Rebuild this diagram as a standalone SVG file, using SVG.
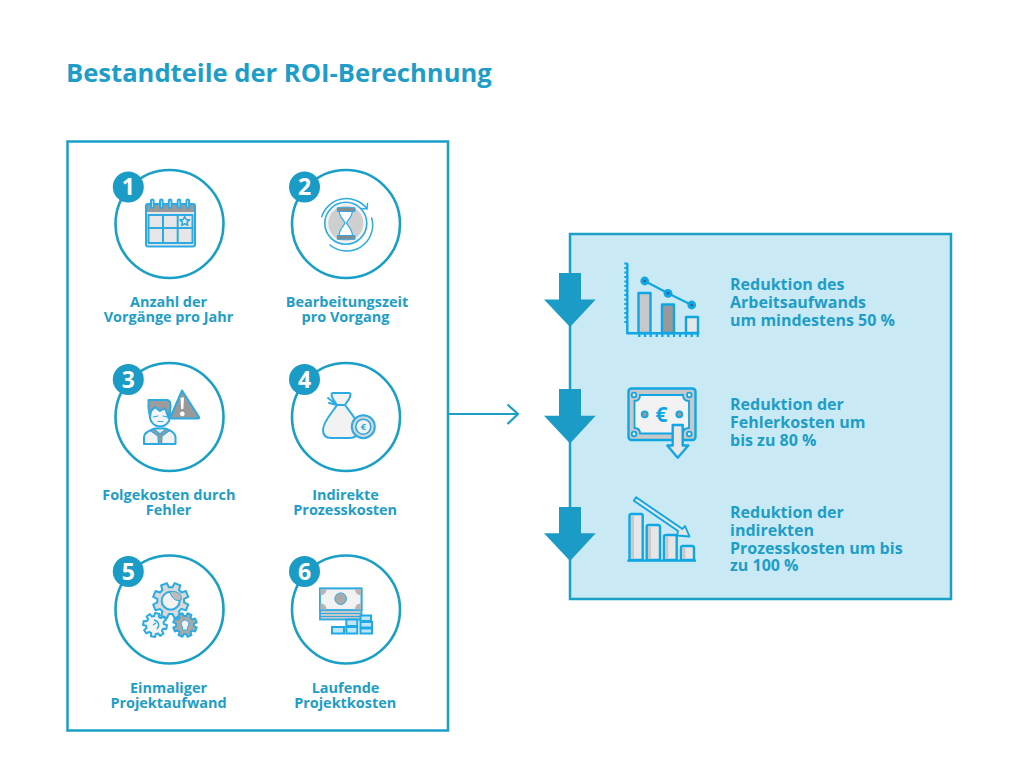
<svg xmlns="http://www.w3.org/2000/svg" width="1024" height="768" viewBox="0 0 1024 768">
<style>
text{font-family:"Open Sans","Noto Sans",sans-serif;font-weight:700;fill:#1e9dc8}
.t{font-size:14.45px;text-anchor:middle}
.r{font-size:16px}
.n{font-size:23px;fill:#fff;text-anchor:middle}
.c{fill:#fff;stroke:#1a9fc6;stroke-width:2.6}
.b{fill:#1b9cc6}
.i{stroke:#2cabe2;stroke-width:2;fill:#e6e6e6;stroke-linejoin:round;stroke-linecap:round}
.j{stroke:#0fa6e3;stroke-width:2.400;fill:#e6e6e6;stroke-linejoin:round;stroke-linecap:round}
.gear{stroke:#2cabe2;stroke-width:2;stroke-linejoin:round;vector-effect:non-scaling-stroke}
.brick{fill:#bfe6f7;stroke:#1fa9e6;stroke-width:2}
</style>
<defs>
<path id="gearshape" class="gear" d="M7.24 -1.94L9.85 -1.74L9.85 1.74L7.24 1.94L6.5 3.75L8.19 5.74L5.74 8.19L3.75 6.5L1.94 7.24L1.74 9.85L-1.74 9.85L-1.94 7.24L-3.75 6.5L-5.74 8.19L-8.19 5.74L-6.5 3.75L-7.24 1.94L-9.85 1.74L-9.85 -1.74L-7.24 -1.94L-6.5 -3.75L-8.19 -5.74L-5.74 -8.19L-3.75 -6.5L-1.94 -7.24L-1.74 -9.85L1.74 -9.85L1.94 -7.24L3.75 -6.5L5.74 -8.19L8.19 -5.74L6.5 -3.75Z"/>
</defs>
<rect width="1024" height="768" fill="#fff"/>
<text x="66" y="82" style="font-size:25.6px">Bestandteile der ROI-Berechnung</text>
<g id="panel-left"><rect x="67.5" y="141.5" width="380.500" height="589" fill="#fff" stroke="#1a9fc6" stroke-width="2.500"/></g>
<g id="panel-right"><rect x="570" y="234" width="381" height="365" fill="#c9eaf4" stroke="#1a9fc6" stroke-width="2.500"/></g>

<g id="node1">
<circle class="c" cx="169.500" cy="224" r="54"/><circle class="b" cx="128.300" cy="187" r="15.500"/><text class="n" x="128.300" y="195">1</text>
<rect class="i" x="146" y="204" width="49" height="42.500" rx="2" style="fill:#e6e6e6"/>
<rect x="147" y="205" width="47" height="7" fill="#999"/>
<rect class="i" x="148.500" y="215" width="44" height="28" style="fill:#e6e6e6"/>
<path class="i" style="fill:none" d="M163 215V243M177.700 215V243M148.500 228H192.500"/>
<g class="i" style="fill:#fff"><rect x="151" y="199.500" width="2.600" height="8.500" rx="1.300"/><rect x="160" y="199.500" width="2.600" height="8.500" rx="1.300"/><rect x="168.800" y="199.500" width="2.600" height="8.500" rx="1.300"/><rect x="177.700" y="199.500" width="2.600" height="8.500" rx="1.300"/><rect x="186.500" y="199.500" width="2.600" height="8.500" rx="1.300"/></g>
<path class="i" style="fill:#f5f5f5;stroke-width:1.600" d="M184.700 216.500l1.400 3 3.300.4-2.400 2.200.6 3.200-2.900-1.600-2.900 1.600.6-3.200-2.400-2.200 3.300-.4z"/>
<text class="t" x="168.500" y="307">Anzahl der</text><text class="t" x="168.500" y="322">Vorgänge pro Jahr</text>
</g>

<g id="node2">
<circle class="c" cx="346" cy="224" r="54"/><circle class="b" cx="304.500" cy="187" r="15.500"/><text class="n" x="304.500" y="195">2</text>
<circle cx="345.800" cy="223.300" r="21" fill="#f2f2f2" stroke="#2cabe2" stroke-width="1.600"/>
<circle cx="345.800" cy="223.300" r="17.500" fill="#cfcfcf"/>
<path fill="none" stroke="#2cabe2" stroke-width="1.500" stroke-linecap="round" d="M321.700 216.700A26 26 0 0 1 366.700 208.300M371.700 218A26 26 0 0 1 330 245"/>
<path fill="none" stroke="#2cabe2" stroke-width="1.500" stroke-linecap="round" d="M361.500 208.500L367 209L367.500 203.500"/>
<path fill="#fff" stroke="#2cabe2" stroke-width="1.200" d="M339 210H352.500C352.500 217 347.500 220 346.500 223C347.500 226 352.500 229 352.500 236H339C339 229 344 226 345 223C344 220 339 217 339 210Z"/>
<path fill="#8a8a8a" stroke="#2cabe2" stroke-width="1" d="M337.300 207.700H355V211.500H337.300ZM337.300 235.500H355V239.300H337.300Z"/>
<text class="t" x="347" y="307">Bearbeitungszeit</text><text class="t" x="345.500" y="322">pro Vorgang</text>
</g>

<g id="node3">
<circle class="c" cx="169.500" cy="417" r="54"/><circle class="b" cx="128.300" cy="379.500" r="15.500"/><text class="n" x="128.300" y="387.500">3</text>
<path class="i" style="fill:#f2f2f2" d="M144 444V437C144 432 150 430 155 428.500H165C170 430 175 432 175.500 437V444Z"/>
<path class="i" style="fill:#999;stroke-width:1.200" d="M153.500 428.500L160 434L166.500 428.500L169 431L162 436L161.500 444H158.500L158 436L151 431Z"/>
<path class="i" style="fill:#f5f5f5" d="M150 408V418C151 424 156 426.500 160 426.500C164 426.500 169 424 170 418V402Z"/>
<path class="i" style="fill:#9c9c9c" d="M148.500 400H167C170 400 170.500 403 170.500 407L168.500 418L165 408L160 411L155 407L151 411L150 417L148.500 408Z"/>
<path class="i" style="fill:none;stroke-width:1.200" d="M153.500 417L158 416M163 416L167 417M158 421.500H163"/>
<path class="i" style="fill:#999" d="M182 390.500L199 417C199.500 418 199 418.500 198 418.500H171.500L170.500 417Z"/>
<path fill="#fff" d="M180.500 397.500H184L183.300 409H181.200ZM182.300 411.500a2.400 2.400 0 1 0 .01 0Z"/>
<text class="t" x="168.800" y="500">Folgekosten durch</text><text class="t" x="168.500" y="514.500">Fehler</text>
</g>

<g id="node4">
<circle class="c" cx="346" cy="417" r="54"/><circle class="b" cx="304.500" cy="379.500" r="15.500"/><text class="n" x="304.500" y="387.500">4</text>
<path class="i" style="fill:#f2f2f2" d="M333 393H349C351 393 351 395 349 399L345 405C350 412 358 420 358 430C358 435 355 438 350 438H331C326 438 323 435 323 430C323 421 333 412 337 405L333 399C331 395 331 393 333 393Z"/>
<path class="i" style="fill:none" d="M337 405H345M328 398L337 405M329 403L337 405"/>
<circle cx="363.300" cy="426.700" r="11.500" fill="#d6d6d6" stroke="#2cabe2" stroke-width="2"/>
<circle cx="363.300" cy="426.700" r="7.500" fill="#f2f2f2" stroke="#2cabe2" stroke-width="1.600"/>
<text x="363.300" y="430" style="font-size:9px;text-anchor:middle;fill:#2cabe2">€</text>
<text class="t" x="345.500" y="500">Indirekte</text><text class="t" x="345.200" y="514.500">Prozesskosten</text>
</g>

<g id="node5">
<circle class="c" cx="169.500" cy="609.500" r="54"/><circle class="b" cx="128.300" cy="571.500" r="15.500"/><text class="n" x="128.300" y="579.500">5</text>
<use href="#gearshape" transform="translate(170.700 600.700) scale(1.800) rotate(22.500)" fill="#d9d9d9"/>
<circle cx="170.700" cy="600.700" r="9" fill="#f2f2f2" stroke="#2cabe2" stroke-width="2"/>
<path d="M170 591.500C176 590.500 183 594 181 600C176 602 171 598 170 591.500Z" fill="#bbb" stroke="#2cabe2" stroke-width="1"/>
<use href="#gearshape" transform="translate(155 625) scale(1.200) rotate(10)" fill="#f2f2f2"/>
<path fill="none" stroke="#2cabe2" stroke-width="1.400" d="M154 620C159 621 160 626 157 629M156 623L153 625"/>
<use href="#gearshape" transform="translate(185 625) scale(1.200) rotate(22.500)" fill="#a8a8a8"/>
<path fill="#f2f2f2" stroke="#2cabe2" stroke-width=".9" d="M185 620a4 4 0 0 1 2.500 7V630H182.500V627A4 4 0 0 1 185 620Z"/>
<text class="t" x="168.500" y="692.500">Einmaliger</text><text class="t" x="168.500" y="707.500">Projektaufwand</text>
</g>

<g id="node6">
<circle class="c" cx="346" cy="609.500" r="54"/><circle class="b" cx="304.500" cy="571.500" r="15.500"/><text class="n" x="304.500" y="579.500">6</text>
<rect x="320" y="588.500" width="41.500" height="31" fill="#c8c8c8" stroke="#2cabe2" stroke-width="1.800"/>
<path d="M320 613.500H361.500M320 616.500H361.500" stroke="#2cabe2" stroke-width="1" fill="none"/>
<rect x="320" y="588.500" width="41.500" height="21.500" fill="#f2f2f2" stroke="#2cabe2" stroke-width="1.800"/>
<path d="M320.500 589H326.500C326.500 593 324 595 320.500 595ZM361 589H355C355 593 357.500 595 361 595ZM320.500 609.500H326.500C326.500 605.500 324 603.500 320.500 603.500ZM361 609.500H355C355 605.500 357.500 603.500 361 603.500Z" fill="#b5b5b5"/>
<circle cx="340.700" cy="598.700" r="5.800" fill="#aaa" stroke="#2cabe2" stroke-width="1"/>
<g class="brick">
<rect x="332" y="627" width="12" height="6.500"/><rect x="346.300" y="627" width="11" height="6.500"/><rect x="346.300" y="619.500" width="11" height="6.500"/><rect x="360.500" y="628.500" width="11.500" height="5"/><rect x="360.500" y="622" width="11.500" height="5.500"/><rect x="360.500" y="615.500" width="10.500" height="5.500"/>
</g>
<text class="t" x="345.500" y="692.500">Laufende</text><text class="t" x="345.200" y="707.500">Projektkosten</text>
</g>

<g id="connectors" fill="none" stroke="#1a9fc6" stroke-width="2.200">
<path d="M449 414H518M507.500 404.500L518 414L507.500 424"/>
</g>

<g id="arrows" class="b">
<path d="M559 273H581V299.500H595.700L570 327L544 299.500H559Z"/>
<path d="M559 389H581V415.700H595.700L570 443.500L544 415.700H559Z"/>
<path d="M559 507H581V533.300H595.700L570 561L544 533.300H559Z"/>
</g>

<g id="result1">
<path class="j" style="fill:none" d="M627.300 264V333.300H698.300"/>
<path fill="none" stroke="#0fa6e3" stroke-width="2.200" d="M624.300 263.500H627M624.300 268H627M624.300 272.500H627M624.300 277H627M624.300 281.500H627M624.300 286H627M624.300 290.500H627M624.300 295H627M624.300 299.500H627M624.300 304H627M624.300 308.500H627M624.300 313H627M624.300 317.500H627M624.300 322H627M639.300 333V337M645 333V337M650.700 333V337M656.700 333V337M662.300 333V337M668.300 333V337M674 333V337M680 333V337M686 333V337M691.700 333V337M697.700 333V337"/>
<rect class="j" x="638.500" y="293" width="12" height="40" style="fill:#c8c8c8"/>
<rect class="j" x="662" y="304.500" width="12" height="28.500" style="fill:#999"/>
<rect class="j" x="686" y="317" width="12" height="16"/>
<path fill="none" stroke="#0fa6e3" stroke-width="2.200" d="M644.700 281L668 293.300L691.700 305"/>
<g fill="#0fa6e3"><circle cx="644.700" cy="281" r="4.400"/><circle cx="668" cy="293.300" r="4.400"/><circle cx="691.700" cy="305" r="4.400"/></g>
<g fill="#3b5c8f"><circle cx="644.700" cy="281" r="1.300"/><circle cx="668" cy="293.300" r="1.300"/><circle cx="691.700" cy="305" r="1.300"/></g>
<text class="r" x="730" y="290">Reduktion des</text><text class="r" x="730" y="308">Arbeitsaufwands</text><text class="r" x="730" y="326">um mindestens 50 %</text>
</g>

<g id="result2">
<rect class="j" x="628.500" y="388.500" width="67" height="51.500" rx="3" style="fill:#c8c8c8"/>
<path fill="#f2f2f2" stroke="#0fa6e3" stroke-width="1.800" d="M640 395H683C683 399 685 401 689 401V428C685 428 683 430 683 433.500H640C640 430 638 428 634.500 428V401C638 401 640 399 640 395Z"/>
<g fill="#f2f2f2" stroke="#0fa6e3" stroke-width="1.800"><circle cx="634" cy="395" r="2.300"/><circle cx="689.300" cy="395" r="2.300"/><circle cx="634" cy="434" r="2.300"/><circle cx="689.300" cy="434" r="2.300"/></g>
<g fill="#999" stroke="#0fa6e3" stroke-width="1.800"><circle cx="644.700" cy="414.300" r="3"/><circle cx="679.300" cy="414.300" r="3"/></g>
<text x="661.500" y="422" style="font-size:21px;text-anchor:middle;fill:#0fa6e3">€</text>
<path class="j" d="M672.700 425H682.700V445.500H688.300L677.700 457.700L667.300 445.500H672.700Z"/>
<text class="r" x="730" y="410">Reduktion der</text><text class="r" x="730" y="428">Fehlerkosten um</text><text class="r" x="730" y="446">bis zu 80 %</text>
</g>

<g id="result3">
<path class="j" style="stroke-width:1.900" d="M633.900 500.700L678 531L677 535.500L689.500 536.500L685 526L682.500 529L636.100 497.300Z"/>
<path class="j" d="M629.500 560V516C629.500 514.500 630.500 514 631.500 514H641C642 514 642.700 514.500 642.700 516V560Z"/>
<path class="j" d="M646.700 560V527C646.700 525.500 647.500 525 648.500 525H658C659 525 660 525.500 660 527V560Z"/>
<path class="j" d="M664 560V537C664 535.500 665 535 666 535H675C676 535 676.700 535.500 676.700 537V560Z"/>
<path class="j" d="M681 560V548C681 546.500 682 546 683 546H692C693 546 694 546.500 694 548V560Z"/>
<path fill="#c8c8c8" d="M631 516H634V559H631ZM648 527H651V559H648ZM665.300 537H668.300V559H665.300ZM682.300 548H685.300V559H682.300Z"/>
<path stroke="#0fa6e3" stroke-width="2.200" fill="none" d="M627.300 560.700H696"/>
<text class="r" x="730" y="518">Reduktion der</text><text class="r" x="730" y="536">indirekten</text><text class="r" x="730" y="553.500">Prozesskosten um bis</text><text class="r" x="730" y="571">zu 100 %</text>
</g>
</svg>
